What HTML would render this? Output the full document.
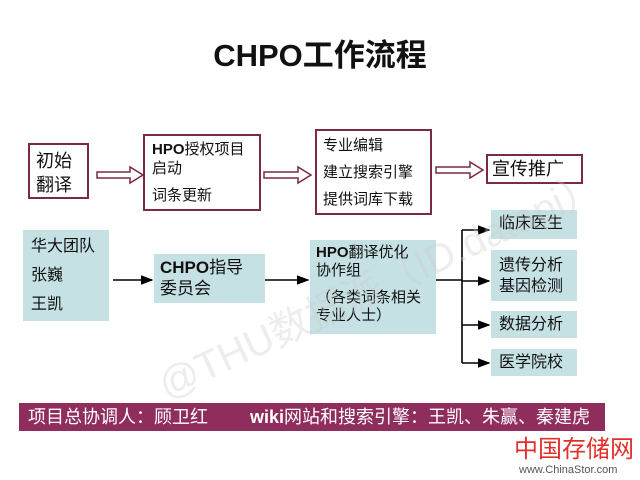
<!DOCTYPE html>
<html><head><meta charset="utf-8"><style>
body{margin:0;width:640px;height:480px;background:#fff;position:relative;overflow:hidden;font-family:"Liberation Sans","Noto Sans CJK SC",sans-serif;}
.a{position:absolute;box-sizing:border-box;}
.w{border:2px solid #7a2a45;background:#fff;color:#111;}
.t{background:#c5e1e4;color:#111;}
.f{font-size:15px;line-height:19px;}
</style></head><body>
<div class="a" style="left:0;top:30px;width:640px;text-align:center;font-size:31px;font-weight:bold;color:#111">CHPO工作流程</div>

<div class="a w" style="left:28px;top:143px;width:61px;height:56px;font-size:18px;line-height:24px;padding:4px 0 0 6px">初始<br>翻译</div>
<div class="a w f" style="left:143px;top:134px;width:118px;height:77px;padding:4px 0 0 7px"><b>HPO</b>授权项目<br>启动<div style="margin-top:8px">词条更新</div></div>
<div class="a w f" style="left:315px;top:129px;width:117px;height:86px;padding:1px 0 0 6px;line-height:27px">专业编辑<br>建立搜索引擎<br>提供词库下载</div>
<div class="a w" style="left:486px;top:154px;width:97px;height:30px;font-size:18px;line-height:24px;padding:1px 0 0 4px">宣传推广</div>

<div class="a t f" style="left:23px;top:230px;width:86px;height:91px;padding:2px 0 0 8px;line-height:29px;font-size:16px">华大团队<br>张巍<br>王凯</div>
<div class="a t" style="left:154px;top:254px;width:111px;height:49px;padding:3px 0 0 6px;font-size:17px;line-height:21px"><b>CHPO</b>指导<br>委员会</div>
<div class="a t f" style="left:310px;top:240px;width:126px;height:94px;padding:4px 0 0 6px;font-size:15px;line-height:18px"><b>HPO</b>翻译优化<br>协作组<div style="margin-top:9px">（各类词条相关<br>专业人士）</div></div>

<div class="a t" style="left:491px;top:210px;width:86px;height:29px;font-size:16px;line-height:28px;padding-left:8px">临床医生</div>
<div class="a t" style="left:491px;top:250px;width:86px;height:51px;font-size:16px;line-height:21px;padding:5px 0 0 8px">遗传分析<br>基因检测</div>
<div class="a t" style="left:491px;top:311px;width:86px;height:27px;font-size:16px;line-height:27px;padding-left:8px">数据分析</div>
<div class="a t" style="left:491px;top:349px;width:86px;height:27px;font-size:16px;line-height:27px;padding-left:8px">医学院校</div>

<svg class="a" style="left:0;top:0" width="640" height="480">
<defs><marker id="m" markerWidth="8" markerHeight="8" refX="7" refY="4" orient="auto"><path d="M0,1 L8,4 L0,7z" fill="#000"/></marker></defs>
<g fill="#fff" stroke="#7a2a45" stroke-width="1.5">
<path d="M97,172 H130 V167 L143,175 L130,183 V178 H97Z"/>
<path d="M264,172 H298 V167 L311,175 L298,183 V178 H264Z"/>
<path d="M436,167 H470 V162 L483,170 L470,178 V173 H436Z"/>
</g>
<g stroke="#000" stroke-width="1.6" fill="none">
<line x1="113" y1="280" x2="152" y2="280" marker-end="url(#m)"/>
<line x1="265" y1="280" x2="308" y2="280" marker-end="url(#m)"/>
<line x1="436" y1="280" x2="462" y2="280"/>
<line x1="462" y1="230" x2="462" y2="363"/>
<line x1="462" y1="230" x2="489" y2="230" marker-end="url(#m)"/>
<line x1="462" y1="281" x2="489" y2="281" marker-end="url(#m)"/>
<line x1="462" y1="325" x2="489" y2="325" marker-end="url(#m)"/>
<line x1="462" y1="363" x2="489" y2="363" marker-end="url(#m)"/>
</g>
<text x="120" y="330" transform="rotate(-25 300 260)" font-size="40" fill="#ccc" fill-opacity="0.35" font-family="Liberation Sans, Noto Sans CJK SC, sans-serif">@THU数据派（ID.datapi）</text>
</svg>

<div class="a" style="left:19px;top:403px;width:586px;height:28px;background:#8f2d5c;"></div>
<div class="a" style="left:28px;top:403px;color:#fff;font-size:18px;line-height:28px;white-space:nowrap">项目总协调人：顾卫红</div>
<div class="a" style="left:250px;top:403px;color:#fff;font-size:18px;line-height:28px;white-space:nowrap"><b>wiki</b>网站和搜索引擎：王凯、朱赢、秦建虎</div>
<div class="a" style="left:514px;top:436px;font-size:24px;color:#e0302a;line-height:28px;white-space:nowrap">中国存储网</div>
<div class="a" style="left:519px;top:464px;font-size:11px;color:#555;white-space:nowrap">www.ChinaStor.com</div>
</body></html>
